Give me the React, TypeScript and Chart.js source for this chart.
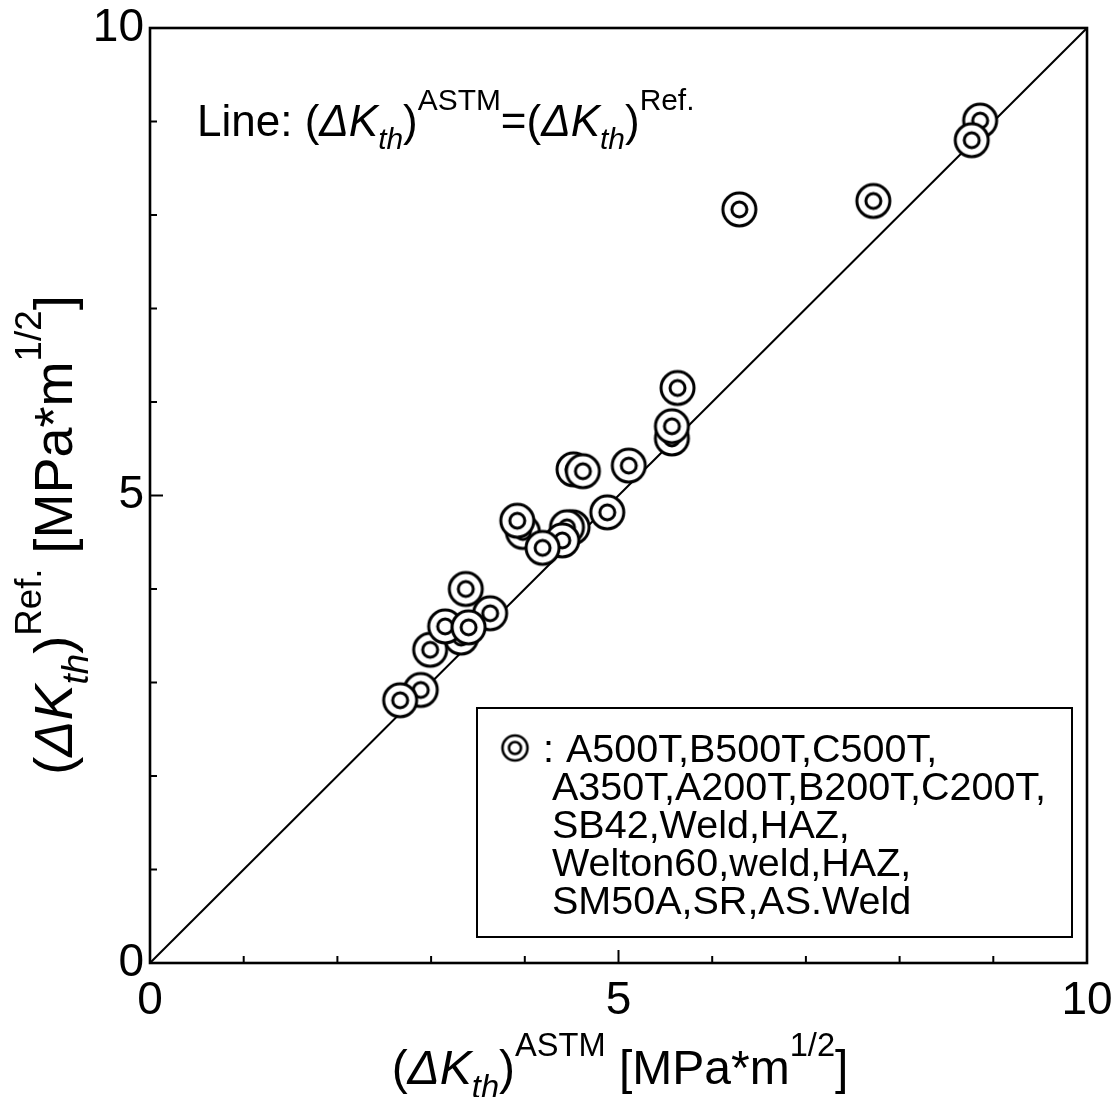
import React, { useEffect, useRef } from "react";
import { Chart, registerables } from "chart.js";

Chart.register(...registerables);

// ---- data ----
const astmValues = [2.89, 2.67, 3.32, 2.99, 3.63, 3.15, 3.40, 3.37, 3.98, 3.92, 4.51, 4.45, 4.40, 4.19, 4.52, 4.62, 4.88, 5.11, 5.57, 5.57, 5.63, 6.29, 7.72, 8.86, 8.77];
const refValues = [2.92, 2.81, 3.48, 3.35, 3.74, 3.60, 3.59, 4.00, 4.61, 4.73, 4.66, 4.66, 4.52, 4.44, 5.28, 5.26, 4.82, 5.32, 5.61, 5.74, 6.15, 8.06, 8.15, 9.01, 8.80];
const equalityLine = [0, 10];
const xTickLabels = [0, 5, 10];
const yTickLabels = [0, 5, 10];
const legendLines = [
  "A500T,B500T,C500T,",
  "A350T,A200T,B200T,C200T,",
  "SB42,Weld,HAZ,",
  "Welton60,weld,HAZ,",
  "SM50A,SR,AS.Weld",
];

const FONT = '"Liberation Sans", Arial, sans-serif';

type Seg = { t: string; it?: boolean; s?: "sup" | "sub" };

const dK: Seg[] = [
  { t: "(" },
  { t: "\u0394K", it: true },
  { t: "th", it: true, s: "sub" },
  { t: ")" },
];

function segFont(seg: Seg, size: number) {
  const sz = seg.s ? size * 0.68 : size;
  return `${seg.it ? "italic " : ""}${sz}px ${FONT}`;
}

function richWidth(ctx: CanvasRenderingContext2D, segs: Seg[], size: number) {
  let w = 0;
  for (const s of segs) {
    ctx.font = segFont(s, size);
    w += ctx.measureText(s.t).width;
  }
  return w;
}

function drawRich(ctx: CanvasRenderingContext2D, segs: Seg[], x: number, y: number, size: number) {
  let cx = x;
  ctx.textBaseline = "alphabetic";
  ctx.textAlign = "left";
  for (const s of segs) {
    ctx.font = segFont(s, size);
    let dy = 0;
    if (s.s === "sup") dy = -size * 0.58;
    if (s.s === "sub") dy = size * 0.3;
    ctx.fillText(s.t, cx, y + dy);
    cx += ctx.measureText(s.t).width;
  }
}

function makeMarker(rOuter: number, rInner: number, lw: number) {
  const size = Math.ceil(rOuter * 2 + lw * 2 + 2);
  const c = document.createElement("canvas");
  c.width = size;
  c.height = size;
  const g = c.getContext("2d")!;
  const m = size / 2;
  g.lineWidth = lw;
  g.strokeStyle = "#000";
  g.fillStyle = "#fff";
  g.beginPath();
  g.arc(m, m, rOuter, 0, Math.PI * 2);
  g.fill();
  g.stroke();
  g.beginPath();
  g.arc(m, m, rInner, 0, Math.PI * 2);
  g.stroke();
  return c;
}

const decorPlugin = {
  id: "decor",
  afterDatasetsDraw(chart: any) {
    const ctx: CanvasRenderingContext2D = chart.ctx;
    const { left, right, top, bottom } = chart.chartArea;
    const xs = chart.scales.x;
    const ys = chart.scales.y;
    ctx.save();
    ctx.strokeStyle = "#000";
    ctx.fillStyle = "#000";
    // frame
    ctx.lineWidth = 2.6;
    ctx.strokeRect(left, top, right - left, bottom - top);
    // inward ticks
    ctx.lineWidth = 2;
    for (let v = 1; v < 10; v++) {
      const len = v % 5 === 0 ? 13 : 7;
      const px = xs.getPixelForValue(v);
      ctx.beginPath();
      ctx.moveTo(px, bottom);
      ctx.lineTo(px, bottom - len);
      ctx.stroke();
      const py = ys.getPixelForValue(v);
      ctx.beginPath();
      ctx.moveTo(left, py);
      ctx.lineTo(left + len, py);
      ctx.stroke();
    }
    // annotation
    const lineSegs: Seg[] = [
      { t: "Line: " },
      ...dK,
      { t: "ASTM", s: "sup" },
      { t: "=" },
      ...dK,
      { t: "Ref.", s: "sup" },
    ];
    drawRich(ctx, lineSegs, 197, 136, 44);

    // legend box
    ctx.lineWidth = 2;
    ctx.strokeRect(477, 708, 595, 229);
    const mk = makeMarker(12.5, 6, 2.6);
    ctx.drawImage(mk, 515 - mk.width / 2, 748 - mk.height / 2);
    ctx.font = `39.5px ${FONT}`;
    ctx.textAlign = "left";
    ctx.textBaseline = "alphabetic";
    ctx.fillText(":", 543, 762);
    legendLines.forEach((ln, i) => {
      ctx.fillText(ln, i === 0 ? 566 : 552, 762 + i * 38);
    });

    // x title
    const xt: Seg[] = [...dK, { t: "ASTM", s: "sup" }, { t: " [MPa*m" }, { t: "1/2", s: "sup" }, { t: "]" }];
    const xw = richWidth(ctx, xt, 48);
    drawRich(ctx, xt, 620 - xw / 2, 1084, 48);

    // y title
    const yt: Seg[] = [...dK, { t: "Ref.", s: "sup" }, { t: " [MPa*m" }, { t: "1/2", s: "sup" }, { t: "]" }];
    const yw = richWidth(ctx, yt, 54);
    ctx.save();
    ctx.translate(72, 535);
    ctx.rotate(-Math.PI / 2);
    drawRich(ctx, yt, -yw / 2, 0, 54);
    ctx.restore();

    ctx.restore();
  },
};

export default function App() {
  const ref = useRef<HTMLCanvasElement | null>(null);
  useEffect(() => {
    if (!ref.current) return;
    const marker = makeMarker(16.5, 7.5, 3);
    const pts = astmValues.map((x, i) => ({ x, y: refValues[i] }));
    const chart = new Chart(ref.current, {
      type: "scatter",
      data: {
        datasets: [
          {
            label: "data",
            data: pts,
            pointStyle: marker as any,
            pointRadius: 17,
            order: 0,
          },
          {
            label: "line",
            type: "line",
            data: equalityLine.map((v) => ({ x: v, y: v })),
            borderColor: "#000",
            borderWidth: 2,
            pointRadius: 0,
            showLine: true,
            fill: false,
            order: 1,
          } as any,
        ],
      },
      options: {
        responsive: false,
        animation: false,
        devicePixelRatio: 1,
        layout: { padding: { top: 28, right: 31, left: 0, bottom: 0 } },
        plugins: { legend: { display: false }, tooltip: { enabled: false } },
        scales: {
          x: {
            type: "linear",
            min: 0,
            max: 10,
            afterFit: (s: any) => {
              s.height = 134;
              s.paddingLeft = 0;
              s.paddingRight = 0;
            },
            afterBuildTicks: (s: any) => {
              s.ticks = xTickLabels.map((v) => ({ value: v }));
            },
            grid: { display: false, drawTicks: false },
            border: { display: false },
            ticks: { font: { size: 46, family: FONT }, color: "#000", padding: 11, maxRotation: 0 },
          },
          y: {
            type: "linear",
            min: 0,
            max: 10,
            afterFit: (s: any) => {
              s.width = 150;
              s.paddingTop = 0;
              s.paddingBottom = 0;
            },
            afterBuildTicks: (s: any) => {
              s.ticks = yTickLabels.map((v) => ({ value: v }));
            },
            grid: { display: false, drawTicks: false },
            border: { display: false },
            ticks: { font: { size: 46, family: FONT }, color: "#000", padding: 6 },
          },
        },
      },
      plugins: [decorPlugin],
    });
    return () => chart.destroy();
  }, []);
  return (
    <div style={{ position: "absolute", left: 0, top: 0, width: 1118, height: 1097, background: "#fff" }}>
      <canvas ref={ref} width={1118} height={1097} style={{ width: 1118, height: 1097 }} />
    </div>
  );
}
